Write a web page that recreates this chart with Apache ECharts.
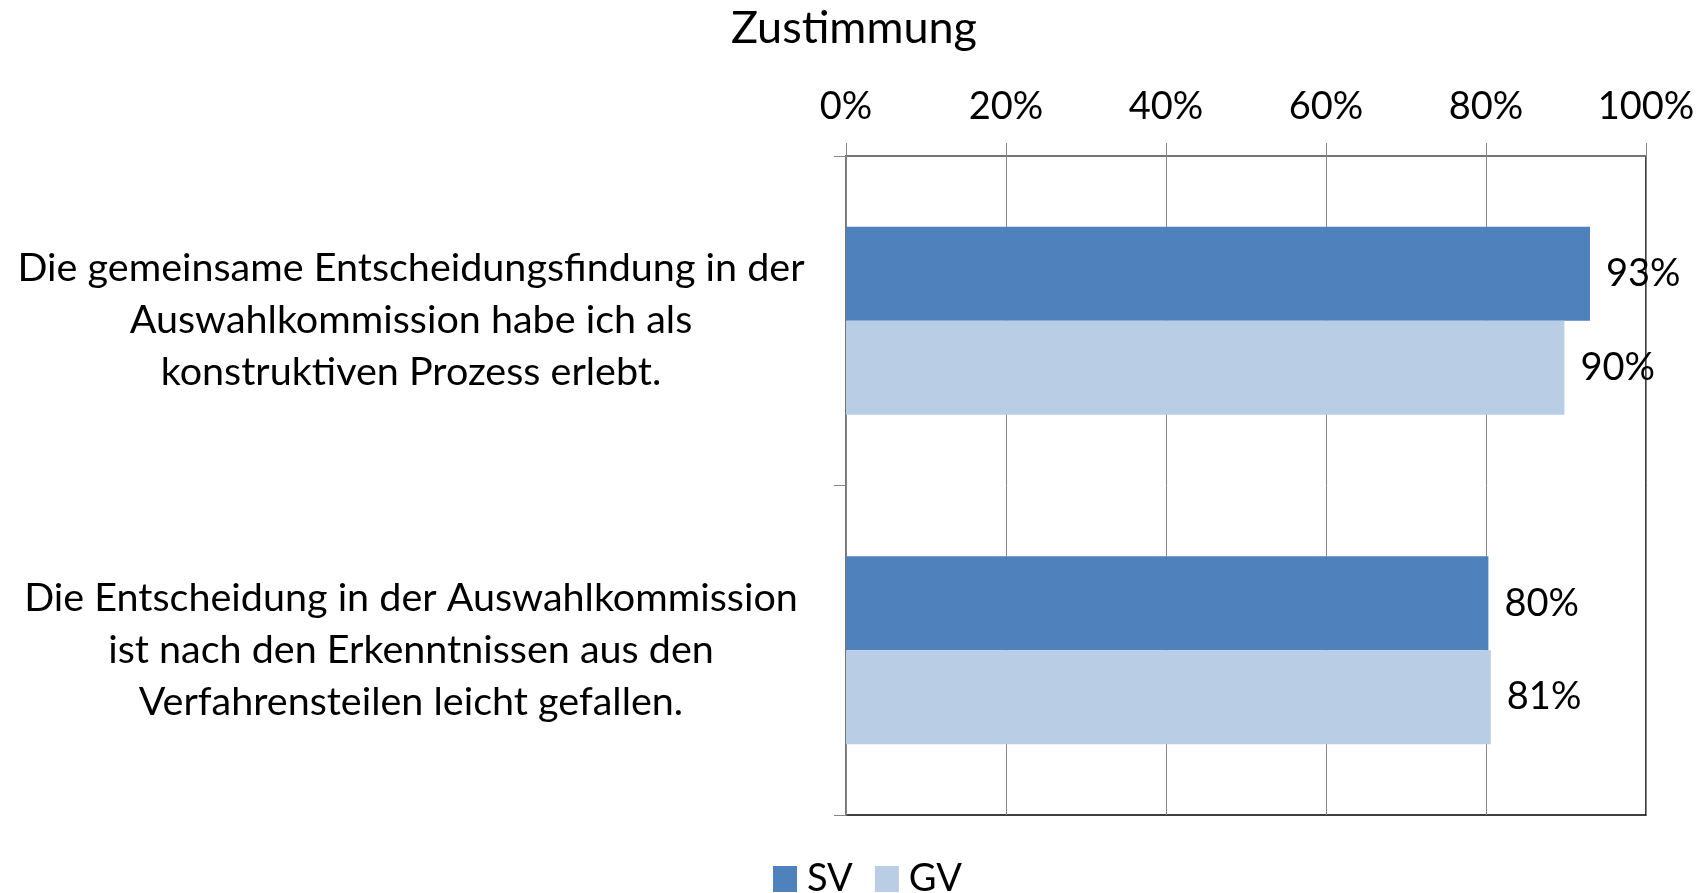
<!DOCTYPE html>
<html>
<head>
<meta charset="utf-8">
<script src="https://cdn.jsdelivr.net/npm/echarts@6/dist/echarts.min.js"></script>
<style>
  html, body { margin: 0; padding: 0; background: #fff; }
  #chart { width: 1708px; height: 893px; }
</style>
</head>
<body>
<div id="chart"></div>
<script>
// data
const categories = [
  'Die gemeinsame Entscheidungsfindung in der\nAuswahlkommission habe ich als\nkonstruktiven Prozess erlebt.',
  'Die Entscheidung in der Auswahlkommission\nist nach den Erkenntnissen aus den\nVerfahrensteilen leicht gefallen.'
];
const seriesNames = ['SV', 'GV'];
const svValues = [0.93, 0.803];
const gvValues = [0.898, 0.806];
const xTicks = [0, 0.2, 0.4, 0.6, 0.8, 1];

const font = 'Lato, "Open Sans", sans-serif';
const gray = '#868686';

let myChart = echarts.init(document.getElementById('chart'));

function pct(v) {
  return Math.round(v * 100) + '%';
}

myChart.setOption({
  textStyle: { fontFamily: font },
  title: {
    text: 'Zustimmung',
    left: 'center',
    top: 1,
    textStyle: { color: '#000', fontSize: 45, fontWeight: 'normal', fontFamily: font }
  },
  legend: {
    data: seriesNames,
    bottom: -10,
    left: 768,
    itemWidth: 24,
    itemHeight: 26,
    itemGap: 22,
    icon: 'rect',
    textStyle: { color: '#000', fontSize: 38, fontFamily: font, padding: [0, 0, 0, 5] }
  },
  grid: {
    left: 846,
    right: 62,
    top: 156,
    bottom: 78,
    show: true,
    borderColor: '#000',
    borderWidth: 1.5,
    backgroundColor: '#fff'
  },
  xAxis: {
    type: 'value',
    position: 'top',
    min: xTicks[0],
    max: xTicks[xTicks.length - 1],
    interval: 0.2,
    axisLine: { show: true, lineStyle: { color: gray, width: 1.5 } },
    axisTick: { show: true, length: 13, lineStyle: { color: gray } },
    splitLine: { show: true, lineStyle: { color: gray, width: 1 } },
    axisLabel: {
      formatter: pct,
      color: '#000',
      fontSize: 38,
      margin: 30,
      fontFamily: font
    }
  },
  yAxis: {
    type: 'category',
    inverse: true,
    data: categories,
    axisLine: { show: true, lineStyle: { color: gray, width: 1.5 } },
    axisTick: { show: true, length: 12, lineStyle: { color: gray } },
    axisLabel: {
      align: 'center',
      margin: 435,
      lineHeight: 52,
      fontSize: 39.5,
      color: '#000',
      fontFamily: font
    }
  },
  series: [
    {
      name: seriesNames[0],
      type: 'bar',
      data: svValues,
      barGap: '0%',
      barCategoryGap: '43%',
      itemStyle: { color: '#4F81BD' },
      label: {
        show: true,
        position: 'right',
        distance: 16,
        formatter: p => pct(p.value),
        color: '#000',
        fontSize: 38,
        fontFamily: font
      }
    },
    {
      name: seriesNames[1],
      type: 'bar',
      data: gvValues,
      barGap: '0%',
      barCategoryGap: '43%',
      itemStyle: { color: '#B9CDE5' },
      label: {
        show: true,
        position: 'right',
        distance: 16,
        formatter: p => pct(p.value),
        color: '#000',
        fontSize: 38,
        fontFamily: font
      }
    }
  ]
});
</script>
</body>
</html>
